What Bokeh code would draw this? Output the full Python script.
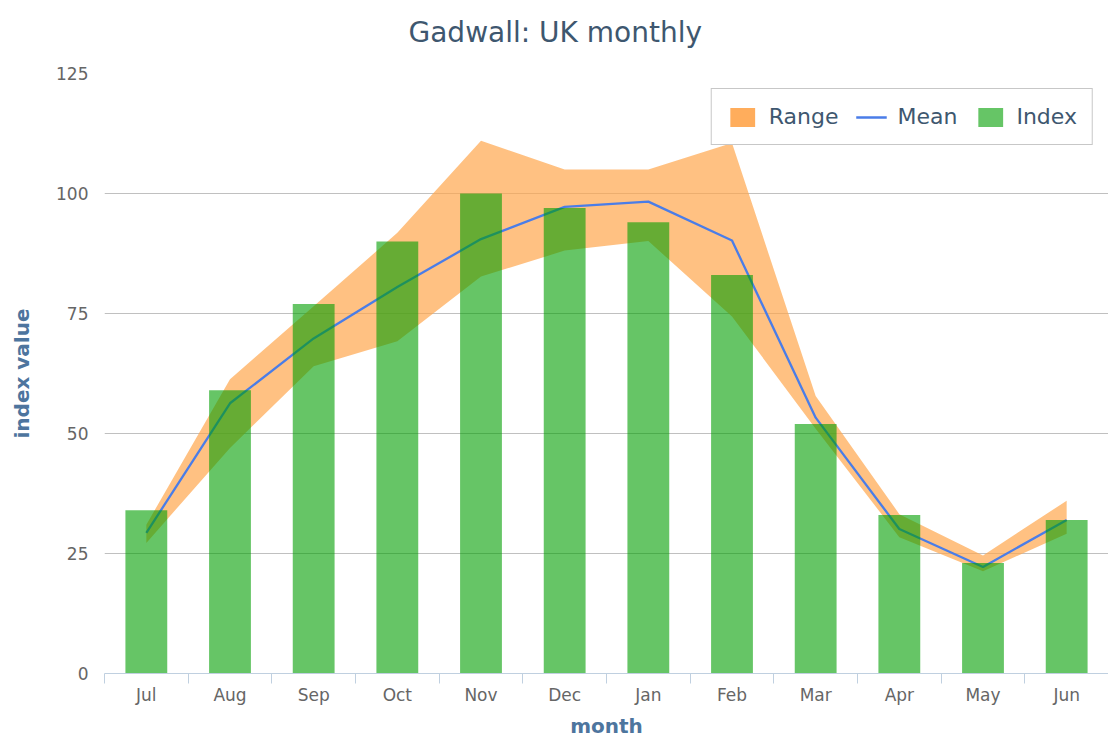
from bokeh.plotting import figure
from bokeh.models import ColumnDataSource, FixedTicker, Legend, LegendItem, Range1d, Title
from bokeh.embed import file_html
from bokeh.resources import INLINE

months = ["Jul", "Aug", "Sep", "Oct", "Nov", "Dec", "Jan", "Feb", "Mar", "Apr", "May", "Jun"]
index_vals = [34, 59, 77, 90, 100, 97, 94, 83, 52, 33, 23, 32]
mean_vals = [29.3, 56.3, 69.8, 80.5, 90.5, 97.2, 98.3, 90.2, 53.3, 30.1, 22.2, 32.0]
range_upper = [31.0, 61.3, 76.5, 91.8, 111.0, 105.0, 105.0, 110.5, 57.8, 33.2, 24.6, 36.0]
range_lower = [27.2, 47.0, 64.0, 69.2, 82.7, 88.1, 90.1, 74.4, 51.0, 28.4, 21.3, 29.1]
y_ticks = [0, 25, 50, 75, 100, 125]

FONT = "DejaVu Sans"
xpos = [i + 0.5 for i in range(len(months))]
src = ColumnDataSource(dict(x=xpos, idx=index_vals, mean=mean_vals,
                            lo=range_lower, hi=range_upper))

p = figure(width=1108, height=740, output_backend="svg", toolbar_location=None,
           x_range=Range1d(0, len(months)), y_range=Range1d(0, 125),
           min_border_left=104, min_border_right=0, min_border_top=73,
           min_border_bottom=65)
p.outline_line_color = None
p.background_fill_color = "white"

p.title.text = "Gadwall: UK monthly"
p.title.align = "left"
p.title.offset = 304
p.title.vertical_align = "bottom"
p.title.text_font = FONT
p.title.text_font_size = "28px"
p.title.text_font_style = "normal"
p.title.text_color = "#3e576f"
p.title.standoff = 0
# invisible spacer between the title and the plot frame
spacer = Title(text=" ", text_font_size="1px", standoff=22)
p.above = [spacer] + list(p.above)

band = p.varea(x="x", y1="lo", y2="hi", source=src, fill_color="#ffa64d", fill_alpha=0.7)
line = p.line(x="x", y="mean", source=src, line_color="#4a7de8", line_width=2.3)
bars = p.vbar(x="x", top="idx", width=0.5, source=src, fill_color="#009e00",
              fill_alpha=0.6, line_color=None)
# legend swatch for the range at full strength (zero-height, draws nothing)
band_key = p.varea(x=xpos[:1], y1=range_lower[:1], y2=range_lower[:1],
                   fill_color="#ffad5c", fill_alpha=1.0)

# axes
xa = p.xaxis[0]
xa.ticker = FixedTicker(ticks=xpos, minor_ticks=list(range(len(months) + 1)))
xa.major_label_overrides = {x: m for x, m in zip(xpos, months)}
xa.major_tick_line_color = None
xa.major_tick_out = 0
xa.major_tick_in = 0
xa.minor_tick_line_color = "#c0d0e0"
xa.minor_tick_out = 10
xa.minor_tick_in = 0
xa.axis_line_color = "#c0d0e0"
xa.major_label_text_font = FONT
xa.major_label_text_font_size = "17px"
xa.major_label_text_color = "#666666"
xa.major_label_standoff = 1
xa.axis_label = "month"
xa.axis_label_text_font = FONT
xa.axis_label_text_font_size = "20px"
xa.axis_label_text_font_style = "bold"
xa.axis_label_text_color = "#4d759e"
xa.axis_label_standoff = 6

ya = p.yaxis[0]
ya.ticker = FixedTicker(ticks=y_ticks)
ya.axis_line_color = None
ya.major_tick_line_color = None
ya.major_tick_out = 0
ya.major_tick_in = 0
ya.minor_tick_line_color = None
ya.major_label_text_font = FONT
ya.major_label_text_font_size = "17px"
ya.major_label_text_color = "#666666"
ya.major_label_standoff = 16
ya.axis_label = "index value"
ya.axis_label_text_font = FONT
ya.axis_label_text_font_size = "20px"
ya.axis_label_text_font_style = "bold"
ya.axis_label_text_color = "#4d759e"
ya.axis_label_standoff = 19

p.xgrid.grid_line_color = None
p.ygrid.grid_line_color = "#c0c0c0"
p.ygrid.grid_line_width = 1
p.ygrid.ticker = FixedTicker(ticks=y_ticks[1:])

legend = Legend(items=[LegendItem(label="Range", renderers=[band_key]),
                       LegendItem(label="Mean", renderers=[line]),
                       LegendItem(label="Index", renderers=[bars])],
                orientation="horizontal", location="top_right", margin=15,
                padding=15, spacing=17, label_standoff=11,
                glyph_width=31, glyph_height=24,
                label_text_font=FONT, label_text_font_size="22px",
                label_text_color="#3e576f",
                border_line_color="#909090", border_line_width=1,
                background_fill_color="white", background_fill_alpha=1.0)
p.add_layout(legend, "center")

open("out.html", "w").write(file_html(p, INLINE))
